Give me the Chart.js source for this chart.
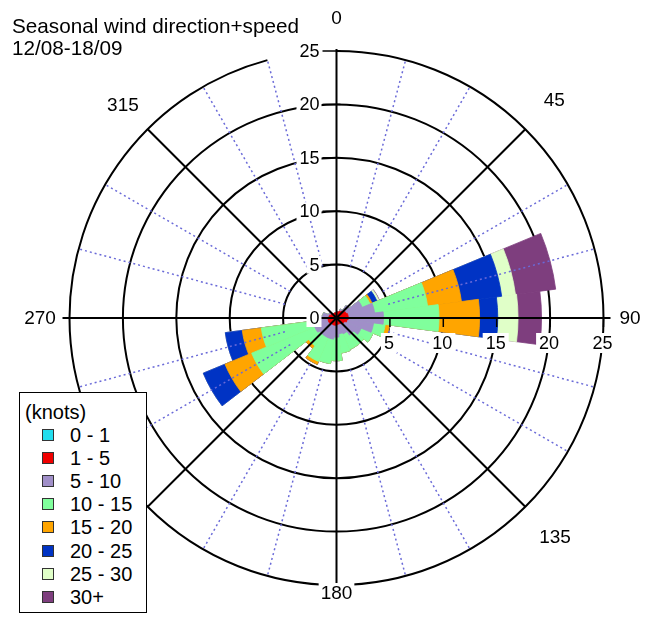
<!DOCTYPE html>
<html>
<head>
<meta charset="utf-8">
<script src="https://cdn.jsdelivr.net/npm/chart.js@4.4.1/dist/chart.umd.min.js"></script>
<style>
html,body{margin:0;padding:0;background:#fff;}
#wrap{position:relative;width:659px;height:632px;overflow:hidden;font-family:"Liberation Sans",Arial,sans-serif;color:#000;}
#c{position:absolute;left:0;top:0;}
#title{position:absolute;left:12px;top:15px;font-size:20.7px;line-height:22px;white-space:nowrap;}
#legendBox{position:absolute;left:19px;top:392px;width:128px;height:221px;border:1.5px solid #000;background:#fff;box-sizing:border-box;}
.lgText{position:absolute;font-size:20px;line-height:22px;white-space:nowrap;}
.lgSw{position:absolute;width:12px;height:12px;box-sizing:border-box;border:1px solid #333;}
</style>
</head>
<body>
<div id="wrap">
  <canvas id="c" width="659" height="632"></canvas>
  <div id="title">Seasonal wind direction+speed<br>12/08-18/09</div>
  <div id="legendBox"></div>
</div>
<script>
// ---- data ----
const dirs = ['0','15','30','45','60','75','90','105','120','135','150','165','180','195','210','225','240','255','270','285','300','315','330','345'];
const speedCats = ['0 - 1','1 - 5','5 - 10','10 - 15','15 - 20','20 - 25','25 - 30','30+'];
const speedColors = ['#22DDEE','#F00000','#A08FC8','#80FF9C','#FFA500','#0033C4','#E0FFC8','#7E3E7E'];

const s0_1   = [0.05,0.05,0.05,0.05,0.05,0.05,0.05,0.05,0.05,0.05,0.05,0.05,0.05,0.05,0.05,0.05,0.05,0.05,0.05,0.05,0.05,0.05,0.05,0.05];
const s1_5   = [0.45,0.55,0.65,0.75,0.95,1.05,1.05,0.95,0.75,0.65,0.55,0.55,0.6,0.65,0.65,0.65,0.75,0.75,0.7,0.65,0.55,0.45,0.45,0.45];
const s5_10  = [0,0,0.2,0.7,1.6,2.5,3.3,2.5,1.7,1.3,1.0,0.9,1.15,1.3,1.3,1.3,1.4,1.2,0.85,0.6,0.2,0,0,0];
const s10_15 = [0,0,0,0,0.8,5.0,5.2,1.1,1.2,1.2,1.6,1.8,2.2,2.3,2.4,1.3,6.4,5.1,0,0,0,0,0,0];
const s15_20 = [0,0,0,0,0.2,3.2,3.8,0.4,0,0,0,0,0,0,0.3,0.3,2.7,1.8,0,0,0,0,0,0];
const s20_25 = [0,0,0,0,0.5,3.8,1.7,0,0,0,0,0,0,0,0,0,2.2,1.6,0,0,0,0,0,0];
const s25_30 = [0,0,0,0,0.2,1.3,1.9,0,0,0,0,0,0,0,0,0,0,0,0,0,0,0,0,0];
const s30p   = [0,0,0,0,0.05,3.8,2.2,0,0,0,0,0,0,0,0,0,0,0,0,0,0,0,0,0];

const radialTicks = [0,5,10,15,20,25];
const angleTicks = [0,45,90,135,180,270,315];
const spokeAngles = [45,135,225,315];
const dottedAngles = [15,30,60,75,105,120,150,165,195,210,240,255,285,300,330,345];

// ---- build stacked (cumulative) datasets ----
const series = [s0_1,s1_5,s5_10,s10_15,s15_20,s20_25,s25_30,s30p];
const cum = [];
series.forEach((s,k)=>{
  cum.push(s.map((v,i)=> (k===0?0:cum[k-1][i]) + v));
});
const datasets = cum.map((d,k)=>({
  label: speedCats[k],
  data: d,
  backgroundColor: speedColors[k],
  borderColor: speedColors[k],
  borderWidth: k===0?0:0.8
}));

// layout-only constants
const CX = 336.5, CY = 318, RAD = 267;
const angleLabelR = {0:300,45:308,90:293.5,135:309,180:275,270:296.5,315:302};

const decor = {
  id:'decor',
  afterDraw(chart){
    const s = chart.scales.r, ctx = chart.ctx;
    const cx = s.xCenter, cy = s.yCenter;
    const R = v => s.getDistanceFromCenterForValue(v);
    const pt = (deg,r)=>{const a=(deg-90)*Math.PI/180;return [cx+Math.cos(a)*r, cy+Math.sin(a)*r];};
    const rmax = R(25);
    ctx.save();
    // dotted lines
    ctx.strokeStyle = '#6A6AD8';
    ctx.lineWidth = 1.5;
    ctx.setLineDash([2,3]);
    dottedAngles.forEach(a=>{
      const p0=pt(a,R(5)), p1=pt(a,rmax);
      ctx.beginPath();ctx.moveTo(p0[0],p0[1]);ctx.lineTo(p1[0],p1[1]);ctx.stroke();
    });
    ctx.setLineDash([]);
    // outer arc (gap between 345 and 360)
    ctx.strokeStyle='#000';ctx.lineWidth=2;
    ctx.beginPath();
    ctx.arc(cx,cy,rmax,(0-90)*Math.PI/180,(345-90)*Math.PI/180);
    ctx.stroke();
    // spokes
    spokeAngles.forEach(a=>{
      const p1=pt(a,rmax);
      ctx.beginPath();ctx.moveTo(cx,cy);ctx.lineTo(p1[0],p1[1]);ctx.stroke();
    });
    ctx.beginPath();ctx.moveTo(cx,cy+rmax);ctx.lineTo(cx,cy-rmax-2);ctx.stroke();
    ctx.beginPath();ctx.moveTo(cx-rmax-7,cy);ctx.lineTo(cx+rmax+7,cy);ctx.stroke();
    // tick marks
    ctx.lineWidth=1.5;
    radialTicks.forEach(v=>{
      if(v===0) return;
      const r=R(v);
      ctx.beginPath();ctx.moveTo(cx-14,cy-r);ctx.lineTo(cx+4,cy-r);ctx.stroke();
      ctx.beginPath();ctx.moveTo(cx+r,cy);ctx.lineTo(cx+r,cy+9);ctx.stroke();
    });
    // labels with white backdrops
    ctx.font = '18px "Liberation Sans", Arial, sans-serif';
    ctx.textBaseline='middle';
    const box=(x,y,w,h)=>{ctx.fillStyle='#fff';ctx.fillRect(x,y,w,h);};
    radialTicks.forEach(v=>{
      const t=String(v), w=ctx.measureText(t).width, y=cy-R(v);
      const xr=cx-17;
      box(xr-w-3,y-9,w+5,18);
      ctx.fillStyle='#000';ctx.textAlign='right';ctx.fillText(t,xr,y+1);
    });
    radialTicks.forEach(v=>{
      if(v===0) return;
      const t=String(v), w=ctx.measureText(t).width, x=cx+R(v)-1, y=cy+25;
      box(x-w/2-3,y-10,w+6,20);
      ctx.fillStyle='#000';ctx.textAlign='center';ctx.fillText(t,x,y+1);
    });
    ctx.font = '19px "Liberation Sans", Arial, sans-serif';
    angleTicks.forEach(a=>{
      const t=String(a), p=pt(a,angleLabelR[a]), w=ctx.measureText(t).width;
      box(p[0]-w/2-2,p[1]-10,w+4,20);
      ctx.fillStyle='#000';ctx.textAlign='center';ctx.fillText(t,p[0],p[1]+1);
    });
    ctx.restore();
  }
};

new Chart(document.getElementById('c'), {
  type:'polarArea',
  data:{labels:dirs, datasets},
  options:{
    responsive:false,
    animation:false,
    devicePixelRatio:1,
    layout:{padding:{left:70,right:55,top:51,bottom:47}},
    plugins:{legend:{display:false},tooltip:{enabled:false}},
    scales:{
      r:{
        min:0,max:25,
        startAngle:-7.5,
        ticks:{display:false,stepSize:5,z:1},
        grid:{circular:true,lineWidth:2,color:(c)=> (c.tick && c.tick.value===25) ? 'rgba(0,0,0,0)' : '#000'},
        angleLines:{display:false},
        pointLabels:{display:false},
        afterFit:(s)=>{s.xCenter=CX;s.yCenter=CY;s.drawingArea=RAD;}
      }
    }
  },
  plugins:[decor]
});

// legend (HTML text)
const wrap=document.getElementById('wrap');
const addText=(t,x,cy)=>{const d=document.createElement('div');d.className='lgText';d.textContent=t;d.style.left=x+'px';d.style.top=(cy-11)+'px';wrap.appendChild(d);};
addText('(knots)',25,411.5);
speedCats.forEach((c,i)=>{
  const cy=434.5+i*23.2;
  const sw=document.createElement('div');sw.className='lgSw';sw.style.left='42px';sw.style.top=(cy-6)+'px';sw.style.background=speedColors[i];wrap.appendChild(sw);
  addText(c,70,cy);
});
</script>
</body>
</html>
